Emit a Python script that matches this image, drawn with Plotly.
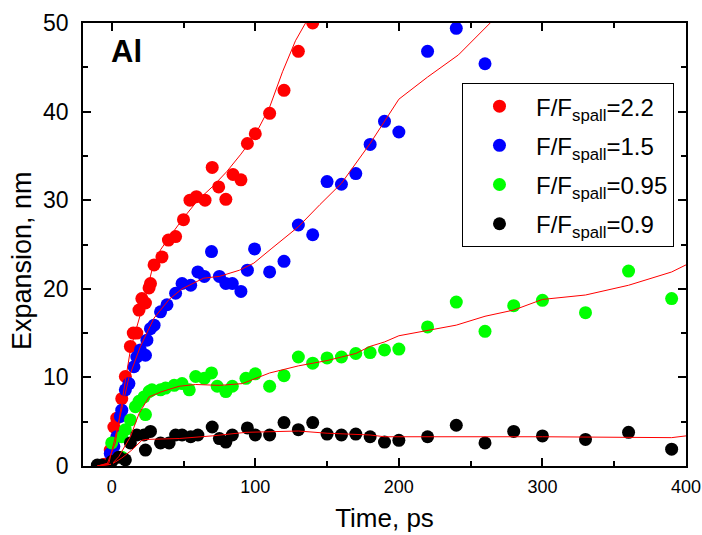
import plotly.graph_objects as go

# Measured expansion vs. time for Al at four fluences (F/F_spall)
t_22 = [-5, -1, 1.5, 3.5, 7, 9.5, 13, 15, 17.5, 19, 21, 23.5, 26, 27, 29.5, 35, 39.5, 44.5,
        50, 54.5, 59, 65, 70, 74.5, 79.5, 84.5, 90, 94.5, 100, 110, 120, 130, 140]
y_22 = [0.2, 1.8, 4.4, 5.4, 7.6, 10.1, 13.5, 15.0, 15.0, 17.6, 18.9, 18.4, 20.1, 20.6, 22.7, 23.6,
        25.5, 25.9, 27.8, 30.0, 30.4, 30.0, 33.7, 31.5, 30.1, 32.9, 32.3, 36.4, 37.5, 39.8, 42.4,
        46.8, 50.0]

t_15 = [-1, 1.5, 3.5, 6, 7, 9.5, 12, 15.5, 17.5, 20, 23.5, 24.5, 27, 29.5, 34, 38.5, 44.5, 49,
        55, 60, 64.5, 69.5, 75, 79.5, 84, 90, 94.5, 99.5, 110, 120, 130, 140, 150, 160, 170, 180,
        190, 200, 220, 240, 260]
y_15 = [1.4, 2.2, 3.3, 5.6, 6.3, 8.6, 9.3, 11.2, 12.3, 13.1, 12.5, 14.2, 15.5, 15.9, 17.4, 18.2,
        19.5, 20.6, 20.4, 21.9, 21.4, 24.2, 21.4, 20.6, 20.6, 19.7, 22.1, 24.5, 21.9, 23.1, 27.2,
        26.1, 32.1, 31.8, 33.0, 36.3, 38.9, 37.7, 46.8, 49.4, 45.4]

t_095 = [0, 7, 7, 9.5, 13, 16.5, 19, 22.5, 23.5, 26, 28, 34, 37.5, 43.5, 49, 54, 58.5, 64.5,
         69.5, 73.5, 79.5, 84, 93.5, 100, 110, 120, 130, 140, 150, 160, 170, 180, 190, 200, 220,
         240, 260, 280, 300, 330, 360, 390]
y_095 = [2.6, 1.0, 3.3, 4.1, 5.2, 6.7, 7.3, 7.8, 5.8, 8.4, 8.6, 8.6, 8.8, 9.1, 9.3, 8.6, 10.1,
         9.9, 10.5, 9.0, 8.4, 9.0, 9.9, 10.4, 9.0, 10.2, 12.3, 11.6, 12.2, 12.3, 12.7, 12.8, 13.1,
         13.2, 15.7, 18.5, 15.2, 18.1, 18.7, 17.3, 22.0, 18.9]

t_09 = [-10, -7, 0, 5, 9.5, 13, 17.5, 22.5, 23.5, 27, 34, 40, 44.5, 49, 55, 60, 70, 75, 79.5,
        84, 94.5, 100, 110, 120, 130, 140, 150, 160, 170, 180, 190, 200, 220, 240, 260, 280, 300,
        330, 360, 390]
y_09 = [0.1, 0.1, 0.5, 1.0, 0.7, 2.6, 3.5, 3.5, 1.8, 3.9, 2.6, 2.6, 3.5, 3.5, 3.3, 3.5, 4.4, 3.1,
        2.7, 3.5, 4.3, 3.5, 3.5, 4.9, 4.1, 4.9, 3.6, 3.5, 3.6, 3.3, 2.7, 2.9, 3.3, 4.6, 2.6, 3.9,
        3.4, 3.0, 3.8, 1.9]

# Model curves for each fluence
fit_t_22 = [-10, -3, 2.5, 8.5, 13, 17.5, 23.5, 28, 34, 40, 50, 60, 70, 80, 90, 100, 110, 119,
            128, 135, 142]
fit_y_22 = [0, 0.3, 2.6, 8.6, 13.1, 15.7, 19.1, 22.1, 24.4, 25.8, 28.0, 30.0, 31.5, 33.2, 35.2,
            37.4, 40.5, 44.5, 48.0, 50.0, 52.5]

fit_t_15 = [-10, -2, 5, 12, 20, 29.5, 40, 49, 64, 75, 89, 99, 111, 130, 145, 160, 180, 200, 220,
            241.5, 263.6, 275]
fit_y_15 = [0, 0.3, 5.0, 10.0, 13.5, 16.7, 18.8, 20.0, 21.2, 21.4, 22.1, 22.9, 24.5, 27.0, 29.5,
            31.9, 36.4, 41.4, 43.9, 46.4, 50.0, 52.0]

fit_t_095 = [-10, 0, 4.9, 13, 19, 26, 35, 47, 58.5, 75, 91, 100.5, 110, 130, 150, 160, 170, 180,
             190, 200, 220, 240, 260, 280, 300, 330, 360, 390, 400]
fit_y_095 = [0, 0.2, 1.05, 3.3, 5.9, 7.8, 8.4, 9.0, 9.2, 9.1, 9.3, 9.9, 10.5, 11.3, 11.9, 12.3,
             12.7, 13.5, 14.0, 14.7, 15.3, 15.9, 16.9, 17.6, 18.8, 19.3, 20.4, 21.9, 22.7]

fit_t_09 = [-10, 0, 7, 14, 21, 24, 47, 70, 93.5, 117, 130, 150, 180, 190, 236, 300, 390, 400]
fit_y_09 = [0, 0.2, 0.9, 1.8, 2.9, 3.0, 3.1, 3.4, 3.8, 3.9, 3.95, 3.7, 3.5, 3.3, 3.3, 3.3, 3.2, 3.4]

series = [
    ("F/F<sub>spall</sub>=2.2", t_22, y_22, "#ff0000"),
    ("F/F<sub>spall</sub>=1.5", t_15, y_15, "#0000ff"),
    ("F/F<sub>spall</sub>=0.95", t_095, y_095, "#00ff00"),
    ("F/F<sub>spall</sub>=0.9", t_09, y_09, "#000000"),
]
fits = [(fit_t_22, fit_y_22), (fit_t_15, fit_y_15), (fit_t_095, fit_y_095), (fit_t_09, fit_y_09)]

FONT = "Liberation Sans, Arial, sans-serif"

fig = go.Figure()
for i, (name, t, y, color) in enumerate(series):
    fig.add_trace(go.Scatter(
        x=t, y=y, mode="markers", name=name, legendgroup=f"g{i}",
        marker=dict(color=color, size=13, line=dict(width=0)),
    ))
for ft, fy in fits:
    fig.add_trace(go.Scatter(
        x=ft, y=fy, mode="lines", showlegend=False,
        line=dict(color="#ff0000", width=1),
    ))

# Panel label
fig.add_annotation(
    text="<b>Al</b>", xref="paper", yref="paper", x=0.043, y=0.935,
    xanchor="left", yanchor="middle", showarrow=False,
    font=dict(family=FONT, size=31, color="black"),
)
# Y-axis title, placed as rotated text
fig.add_annotation(
    text="Expansion, nm", xref="paper", yref="paper", x=-0.101, y=0.463,
    xanchor="center", yanchor="middle", textangle=-90, showarrow=False,
    font=dict(family=FONT, size=27, color="black"),
)

axis_common = dict(
    showline=True, linecolor="black", linewidth=1.5, mirror="ticks",
    ticks="inside", ticklen=8, tickwidth=1.5, tickcolor="black",
    showgrid=False, zeroline=False, automargin=False,
)

fig.update_xaxes(
    range=[-20, 400], tickvals=[0, 100, 200, 300, 400],
    minor=dict(tickvals=[50, 150, 250, 350], ticks="inside", ticklen=5, tickwidth=1.5,
               tickcolor="black"),
    tickfont=dict(family=FONT, size=18, color="black"),
    title=dict(text="Time, ps", font=dict(family=FONT, size=26, color="black"), standoff=12),
    ticklabelstandoff=4,
    **axis_common,
)
fig.update_yaxes(
    range=[0, 50], tickvals=[0, 10, 20, 30, 40, 50],
    minor=dict(tickvals=[5, 15, 25, 35, 45], ticks="inside", ticklen=5, tickwidth=1.5,
               tickcolor="black"),
    tickfont=dict(family=FONT, size=23, color="black"),
    ticklabelstandoff=8,
    **axis_common,
)

fig.update_layout(
    width=702, height=535,
    margin=dict(l=83, r=16, t=23, b=69),
    plot_bgcolor="white", paper_bgcolor="white",
    font=dict(family=FONT, color="black"),
    legend=dict(
        x=0.6285, y=0.8645, xanchor="left", yanchor="top",
        bordercolor="black", borderwidth=1, bgcolor="white",
        font=dict(family=FONT, size=24, color="black"),
        itemwidth=63, tracegroupgap=5,
    ),
)

fig.write_html("out.html")
